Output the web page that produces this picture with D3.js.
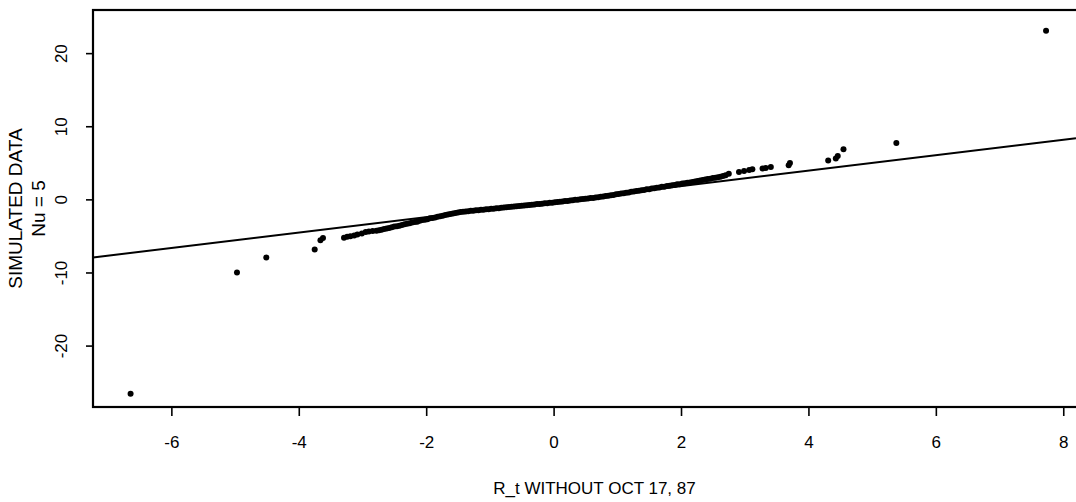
<!DOCTYPE html>
<html>
<head>
<meta charset="utf-8">
<script src="https://cdn.jsdelivr.net/npm/d3@7"></script>
<style>
  body { margin: 0; background: #fff; }
  text { font-family: Arial, "Liberation Sans", sans-serif; fill: #000; }
</style>
</head>
<body>
<div id="app"></div>
<script>
// quantiles: R_t (x) against the simulated t-sample (y)
const rtQuantiles = [
  -6.64, -4.97, -4.51, -3.75, -3.66, -3.62, -3.29, -3.24, -3.19, -3.13, -3.08, -3.01, -2.95, -2.90, -2.84, -2.78, -2.74,
  -2.70, -2.66, -2.62, -2.58, -2.54, -2.50, -2.46, -2.42, -2.38, -2.34, -2.30, -2.26, -2.22, -2.18, -2.14, -2.10,
  -2.06, -2.02, -1.98, -1.94, -1.90, -1.86, -1.82, -1.78, -1.74, -1.70, -1.66, -1.62, -1.58, -1.54, -1.50, -1.46,
  -1.42, -1.38, -1.34, -1.30, -1.26, -1.22, -1.18, -1.14, -1.10, -1.06, -1.02, -0.98, -0.94, -0.90, -0.86, -0.82,
  -0.78, -0.74, -0.70, -0.66, -0.62, -0.58, -0.54, -0.50, -0.46, -0.42, -0.38, -0.34, -0.30, -0.26, -0.22, -0.18,
  -0.14, -0.10, -0.06, -0.02, 0.02, 0.06, 0.10, 0.14, 0.18, 0.22, 0.26, 0.30, 0.34, 0.38, 0.42, 0.46,
  0.50, 0.54, 0.58, 0.62, 0.66, 0.70, 0.74, 0.78, 0.82, 0.86, 0.90, 0.94, 0.98, 1.02, 1.06, 1.10,
  1.14, 1.18, 1.22, 1.26, 1.30, 1.34, 1.38, 1.42, 1.46, 1.50, 1.54, 1.58, 1.62, 1.66, 1.70, 1.74,
  1.78, 1.82, 1.86, 1.90, 1.94, 1.98, 2.02, 2.06, 2.10, 2.14, 2.18, 2.22, 2.26, 2.30, 2.34, 2.38,
  2.42, 2.46, 2.50, 2.54, 2.58, 2.62, 2.66,
  2.70, 2.75, 2.91, 2.99, 3.07, 3.12, 3.28, 3.33, 3.41, 3.69, 3.71, 4.31, 4.43, 4.46, 4.55, 5.38, 7.73
];
const simQuantiles = [
  -26.6, -10.0, -7.95, -6.85, -5.6, -5.3, -5.25, -5.11, -5.03, -4.93, -4.79, -4.66, -4.48, -4.38, -4.33, -4.28, -4.22,
  -4.14, -4.05, -3.99, -3.92, -3.83, -3.72, -3.67, -3.60, -3.51, -3.40, -3.35, -3.28, -3.17, -3.10, -3.05, -2.94,
  -2.84, -2.79, -2.72, -2.60, -2.55, -2.47, -2.37, -2.31, -2.24, -2.13, -2.07, -1.99, -1.93, -1.85, -1.81, -1.74,
  -1.71, -1.65, -1.63, -1.57, -1.55, -1.50, -1.48, -1.42, -1.41, -1.35, -1.34, -1.28, -1.27, -1.21, -1.20, -1.14,
  -1.13, -1.07, -1.06, -1.00, -0.99, -0.93, -0.92, -0.86, -0.85, -0.79, -0.78, -0.72, -0.71, -0.65, -0.62, -0.60,
  -0.54, -0.52, -0.47, -0.45, -0.39, -0.37, -0.31, -0.29, -0.23, -0.21, -0.15, -0.13, -0.07, -0.05, 0.02, 0.04,
  0.10, 0.12, 0.18, 0.20, 0.26, 0.28, 0.35, 0.38, 0.46, 0.50, 0.57, 0.61, 0.69, 0.72, 0.80, 0.84,
  0.91, 0.95, 1.03, 1.06, 1.14, 1.18, 1.25, 1.29, 1.37, 1.40, 1.48, 1.52, 1.59, 1.63, 1.71, 1.74,
  1.82, 1.86, 1.93, 1.97, 2.05, 2.08, 2.16, 2.20, 2.27, 2.31, 2.39, 2.44, 2.52, 2.57, 2.65, 2.70,
  2.78, 2.83, 2.91, 2.96, 3.04, 3.09, 3.19,
  3.29, 3.52, 3.74, 3.88, 4.01, 4.11, 4.21, 4.29, 4.42, 4.66, 4.97, 5.30, 5.58, 5.93, 6.85, 7.71, 23.05
];

// reference line, two ends
const lineX = [-7.23, 8.2];
const lineY = [-7.95, 8.36];

const xTicks = [-6, -4, -2, 0, 2, 4, 6, 8];
const yTicks = [-20, -10, 0, 10, 20];

const width = 1076,
    height = 502;
const plotLeft = 93, plotTop = 10, plotBottom = 407;

const x = d3.scaleLinear().domain([-7.23, 8.2]).range([plotLeft, width]);
const y = d3.scaleLinear().domain([-28.4, 25.9]).range([plotBottom, plotTop]);

// plain hyphen for negatives, like the original
const fmt = d => String(d);

const svg = d3.select("#app")
    .append("svg")
    .attr("width", width)
    .attr("height", height);

//Frame (right side runs off the page)
svg.append("rect")
    .attr("x", plotLeft)
    .attr("y", plotTop)
    .attr("width", width + 20 - plotLeft)
    .attr("height", plotBottom - plotTop)
    .attr("fill", "none")
    .attr("stroke", "#000")
    .attr("stroke-width", 2.2);

//X-Axis
const xAxis = svg.append("g")
    .attr("transform", "translate(0," + plotBottom + ")")
    .call(d3.axisBottom(x).tickValues(xTicks).tickSize(9).tickPadding(20).tickFormat(fmt));
xAxis.select(".domain").remove();
xAxis.selectAll("line").attr("stroke-width", 1.6);
xAxis.selectAll("text").style("font-size", "17px").attr("font-family", null);

//Y-Axis, labels turned
const yAxis = svg.append("g")
    .attr("transform", "translate(" + plotLeft + ",0)")
    .call(d3.axisLeft(y).tickValues(yTicks).tickSize(7).tickFormat(fmt));
yAxis.select(".domain").remove();
yAxis.selectAll("line").attr("stroke-width", 1.6);
yAxis.selectAll("text")
    .attr("x", null)
    .attr("dy", "0.36em")
    .attr("transform", "translate(-32,0) rotate(-90)")
    .attr("text-anchor", "middle")
    .attr("font-family", null)
    .style("font-size", "17px");

//Axis titles
svg.append("text")
    .attr("x", (plotLeft + width + 20) / 2)
    .attr("y", 494)
    .attr("text-anchor", "middle")
    .style("font-size", "17px")
    .text("R_t WITHOUT OCT 17, 87");

const midY = (plotTop + plotBottom) / 2;
svg.append("text")
    .attr("transform", "translate(15," + midY + ") rotate(-90)")
    .attr("dy", "0.36em")
    .attr("text-anchor", "middle")
    .style("font-size", "19px")
    .text("SIMULATED DATA");
svg.append("text")
    .attr("transform", "translate(38," + midY + ") rotate(-90)")
    .attr("dy", "0.36em")
    .attr("text-anchor", "middle")
    .style("font-size", "19px")
    .text("Nu = 5");

//Reference line
svg.append("path")
    .datum(d3.zip(lineX, lineY))
    .attr("fill", "none")
    .attr("stroke", "#000")
    .attr("stroke-width", 2)
    .attr("d", d3.line().x(d => x(d[0])).y(d => y(d[1])));

//Points
svg.append("g").selectAll("circle")
    .data(d3.zip(rtQuantiles, simQuantiles)).enter()
    .append("circle")
    .attr("r", 3)
    .attr("cx", function (d) {return x(d[0])})
    .attr("cy", function (d) {return y(d[1])})
    .attr("fill", "#000");
</script>
</body>
</html>
